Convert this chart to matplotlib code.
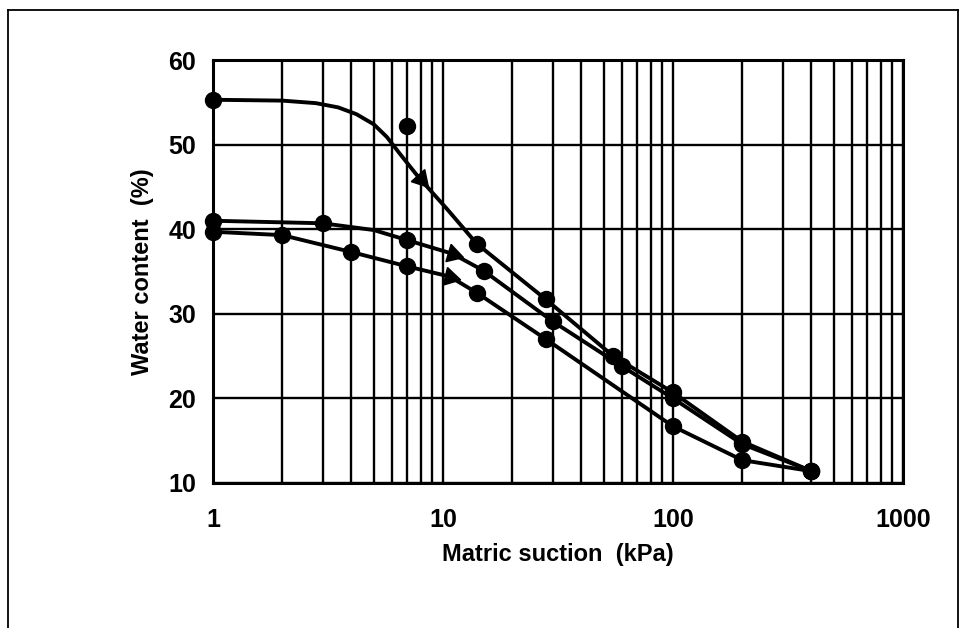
import matplotlib.pyplot as plt
from matplotlib.lines import Line2D
import numpy as np

plt.rcParams['font.family'] = ['Liberation Sans', 'DejaVu Sans']

# measured points (circles)
top_x = [1, 7, 14, 28, 55, 100, 200, 400]
top_y = [55.3, 52.2, 38.3, 31.7, 25.0, 20.7, 14.9, 11.4]
mid_x = [1, 3, 7, 15, 30, 60, 100, 200, 400]
mid_y = [41.0, 40.7, 38.7, 35.1, 29.1, 23.8, 20.0, 14.6, 11.4]
bot_x = [1, 2, 4, 7, 14, 28, 100, 200, 400]
bot_y = [39.7, 39.3, 37.3, 35.6, 32.5, 27.0, 16.7, 12.7, 11.4]

# drawn curves
top_cx = [1, 2, 2.8, 3.5, 4.2, 5.0, 5.7, 6.5, 7.8, 10.4, 14, 28, 55, 100, 200, 400]
top_cy = [55.3, 55.2, 54.9, 54.4, 53.6, 52.4, 50.9, 48.9, 46.2, 42.4, 38.3, 31.7, 25.0, 20.7, 14.9, 11.4]
mid_cx = [1, 3, 5, 7, 11, 15, 30, 60, 100, 200, 400]
mid_cy = [41.0, 40.7, 39.9, 38.7, 37.1, 35.1, 29.1, 23.8, 20.0, 14.6, 11.4]
bot_cx = [1, 2, 4, 7, 10.7, 14, 28, 100, 200, 400]
bot_cy = [39.7, 39.3, 37.3, 35.6, 34.4, 32.5, 27.0, 16.7, 12.7, 11.4]

# arrow heads on the curves
arrow_x = [8.0, 11.0, 10.7]
arrow_y = [45.9, 37.1, 34.4]

y_ticks = [10, 20, 30, 40, 50, 60]
x_ticks = [1, 10, 100, 1000]
x_ticklabels = ['1', '10', '100', '1000']

fig = plt.figure(figsize=(9.68, 6.28), dpi=100)
ax = fig.add_axes([213/968, 1-483/628, 690/968, 423/628])
ax.set_xscale('log')
ax.set_xlim(1, 1000)
ax.set_ylim(10, 60)

ax.set_xticks(x_ticks)
ax.set_xticklabels(x_ticklabels)
ax.set_yticks(y_ticks)
ax.tick_params(axis='both', which='both', length=0, labelsize=18)
ax.tick_params(axis='x', pad=18)
ax.tick_params(axis='y', pad=12)
for lab in ax.get_xticklabels() + ax.get_yticklabels():
    lab.set_fontweight('bold')

ax.grid(True, which='both', axis='x', color='black', lw=1.7)
ax.grid(True, which='major', axis='y', color='black', lw=1.7)
for s in ax.spines.values():
    s.set_linewidth(2.2)

curves = [(top_cx, top_cy), (mid_cx, mid_cy), (bot_cx, bot_cy)]
for cx, cy in curves:
    ax.plot(cx, cy, color='black', lw=2.8, solid_capstyle='round',
            solid_joinstyle='round', zorder=3)

for px, py in [(top_x, top_y), (mid_x, mid_y), (bot_x, bot_y)]:
    ax.plot(px, py, 'o', color='black', ms=11.5, clip_on=False, zorder=4)

# rotate each arrow head along its curve
for (cx, cy), axx, ayy in zip(curves, arrow_x, arrow_y):
    i = np.searchsorted(cx, axx)
    p0 = ax.transData.transform((cx[i-1], cy[i-1]))
    p1 = ax.transData.transform((cx[i], cy[i]))
    ang = np.degrees(np.arctan2(p1[1]-p0[1], p1[0]-p0[0]))
    ax.plot(axx, ayy, marker=(3, 0, ang-90), color='black', ms=15, zorder=5)

ax.set_xlabel('Matric suction  (kPa)', fontsize=17, fontweight='bold')
ax.set_ylabel('Water content  (%)', fontsize=17, fontweight='bold')
ax.xaxis.set_label_coords(0.5, -0.142)
ax.yaxis.set_label_coords(-0.085, 0.5)

# frame around the scanned figure
fl, fr, ft = 8/968, 958/968, 1-10/628
fig.add_artist(Line2D([fl, fl], [0, ft], color='black', lw=1.3))
fig.add_artist(Line2D([fl, fr], [ft, ft], color='black', lw=1.3))
fig.add_artist(Line2D([fr, fr], [0, ft], color='black', lw=1.3))

fig.savefig('out.png', dpi=100)
